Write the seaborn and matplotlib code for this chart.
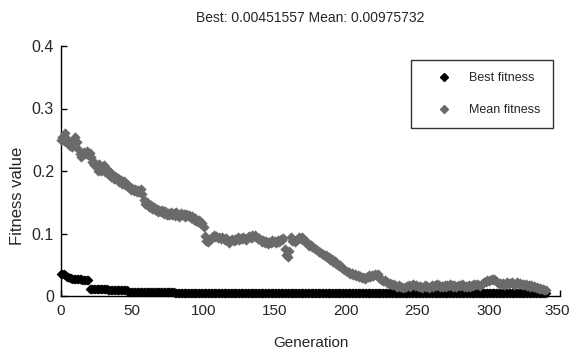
import numpy as np
import pandas as pd
import matplotlib
matplotlib.use("Agg")
import matplotlib.pyplot as plt
import matplotlib.transforms as mtransforms
import seaborn as sns
from matplotlib.lines import Line2D

title_text = "Best: 0.00451557 Mean: 0.00975732"
x_label = "Generation"
y_label = "Fitness value"
series_names = ["Best fitness", "Mean fitness"]
x_ticks = [0, 50, 100, 150, 200, 250, 300, 350]
y_ticks = [0, 0.1, 0.2, 0.3, 0.4]
y_tick_labels = ["0", "0.1", "0.2", "0.3", "0.4"]

best_fitness = [
    0.035, 0.036, 0.035, 0.034, 0.030, 0.030, 0.029, 0.029, 0.028, 0.028,
    0.028, 0.027, 0.027, 0.027, 0.027, 0.026, 0.026, 0.026, 0.025, 0.025,
    0.011, 0.011, 0.011, 0.011, 0.011, 0.011, 0.011, 0.011, 0.011, 0.011,
    0.011, 0.011, 0.011, 0.010, 0.010, 0.010, 0.010, 0.010, 0.010, 0.010,
    0.010, 0.010, 0.010, 0.010, 0.010, 0.010, 0.010, 0.0065, 0.0065, 0.0065,
    0.0062, 0.0062, 0.0062, 0.0062, 0.0062, 0.0062, 0.0062, 0.0062, 0.0062, 0.0062,
    0.0060, 0.0060, 0.0060, 0.0060, 0.0060, 0.0060, 0.0060, 0.0060, 0.0060, 0.0060,
    0.0058, 0.0058, 0.0058, 0.0058, 0.0058, 0.0058, 0.0058, 0.0058, 0.0058, 0.0058,
    0.0056, 0.0056, 0.0056, 0.0056, 0.0056, 0.0056, 0.0056, 0.0056, 0.0056, 0.0056,
    0.0055, 0.0055, 0.0055, 0.0055, 0.0055, 0.0055, 0.0055, 0.0055, 0.0055, 0.0055,
    0.0050, 0.0050, 0.0050, 0.0050, 0.0050, 0.0050, 0.0050, 0.0050, 0.0050, 0.0050,
    0.0050, 0.0050, 0.0050, 0.0050, 0.0050, 0.0050, 0.0050, 0.0050, 0.0050, 0.0050,
    0.0050, 0.0050, 0.0050, 0.0050, 0.0050, 0.0050, 0.0050, 0.0050, 0.0050, 0.0050,
    0.0050, 0.0050, 0.0050, 0.0050, 0.0050, 0.0050, 0.0050, 0.0050, 0.0050, 0.0050,
    0.0050, 0.0050, 0.0050, 0.0050, 0.0050, 0.0050, 0.0050, 0.0050, 0.0050, 0.0050,
    0.0048, 0.0048, 0.0048, 0.0048, 0.0048, 0.0048, 0.0048, 0.0048, 0.0048, 0.0048,
    0.0048, 0.0048, 0.0048, 0.0048, 0.0048, 0.0048, 0.0048, 0.0048, 0.0048, 0.0048,
    0.0048, 0.0048, 0.0048, 0.0048, 0.0048, 0.0048, 0.0048, 0.0048, 0.0048, 0.0048,
    0.0048, 0.0048, 0.0048, 0.0048, 0.0048, 0.0048, 0.0048, 0.0048, 0.0048, 0.0048,
    0.0048, 0.0048, 0.0048, 0.0048, 0.0048, 0.0048, 0.0048, 0.0048, 0.0048, 0.0048,
    0.0047, 0.0047, 0.0047, 0.0047, 0.0047, 0.0047, 0.0047, 0.0047, 0.0047, 0.0047,
    0.0047, 0.0047, 0.0047, 0.0047, 0.0047, 0.0047, 0.0047, 0.0047, 0.0047, 0.0047,
    0.0047, 0.0047, 0.0047, 0.0047, 0.0047, 0.0047, 0.0047, 0.0047, 0.0047, 0.0047,
    0.0047, 0.0047, 0.0047, 0.0047, 0.0047, 0.0047, 0.0047, 0.0047, 0.0047, 0.0047,
    0.0047, 0.0047, 0.0047, 0.0047, 0.0047, 0.0047, 0.0047, 0.0047, 0.0047, 0.0047,
    0.0046, 0.0046, 0.0046, 0.0046, 0.0046, 0.0046, 0.0046, 0.0046, 0.0046, 0.0046,
    0.0046, 0.0046, 0.0046, 0.0046, 0.0046, 0.0046, 0.0046, 0.0046, 0.0046, 0.0046,
    0.0046, 0.0046, 0.0046, 0.0046, 0.0046, 0.0046, 0.0046, 0.0046, 0.0046, 0.0046,
    0.0046, 0.0046, 0.0046, 0.0046, 0.0046, 0.0046, 0.0046, 0.0046, 0.0046, 0.0046,
    0.0046, 0.0046, 0.0046, 0.0046, 0.0046, 0.0046, 0.0046, 0.0046, 0.0046, 0.0046,
    0.00455, 0.00455, 0.00455, 0.00455, 0.00455, 0.00455, 0.00455, 0.00455, 0.00455, 0.00455,
    0.00455, 0.00455, 0.00455, 0.00455, 0.00455, 0.00455, 0.00455, 0.00455, 0.00455, 0.00455,
    0.00455, 0.00455, 0.00455, 0.00455, 0.00455, 0.00455, 0.00455, 0.00455, 0.00455, 0.00455,
    0.00455, 0.00455, 0.00455, 0.00455, 0.00455, 0.00455, 0.00455, 0.00455, 0.00455, 0.00455,
    0.00451557,
]

mean_fitness = [
    0.250, 0.255, 0.248, 0.261, 0.252, 0.244, 0.240, 0.246, 0.238, 0.250,
    0.254, 0.247, 0.236, 0.228, 0.222, 0.226, 0.231, 0.228, 0.232, 0.226,
    0.229, 0.222, 0.215, 0.210, 0.213, 0.206, 0.200, 0.212, 0.200, 0.205,
    0.210, 0.198, 0.203, 0.196, 0.200, 0.190, 0.195, 0.188, 0.192, 0.186,
    0.189, 0.183, 0.186, 0.180, 0.184, 0.178, 0.180, 0.174, 0.176, 0.170,
    0.173, 0.168, 0.172, 0.166, 0.170, 0.167, 0.172, 0.163, 0.154, 0.148,
    0.150, 0.145, 0.143, 0.146, 0.140, 0.142, 0.137, 0.140, 0.134, 0.137,
    0.134, 0.138, 0.131, 0.136, 0.130, 0.133, 0.129, 0.135, 0.130, 0.133,
    0.128, 0.134, 0.130, 0.127, 0.133, 0.129, 0.131, 0.126, 0.132, 0.128,
    0.130, 0.125, 0.128, 0.122, 0.125, 0.120, 0.118, 0.121, 0.115, 0.117,
    0.110, 0.096, 0.088, 0.086, 0.090, 0.092, 0.095, 0.098, 0.094, 0.096,
    0.093, 0.095, 0.091, 0.094, 0.092, 0.090, 0.093, 0.088, 0.085, 0.089,
    0.091, 0.088, 0.092, 0.090, 0.094, 0.089, 0.093, 0.091, 0.095, 0.092,
    0.090, 0.094, 0.096, 0.093, 0.097, 0.095, 0.098, 0.094, 0.091, 0.093,
    0.089, 0.086, 0.090, 0.085, 0.088, 0.084, 0.087, 0.085, 0.089, 0.086,
    0.088, 0.085, 0.090, 0.087, 0.091, 0.089, 0.093, 0.075, 0.065, 0.062,
    0.072, 0.094, 0.088, 0.090, 0.086, 0.089, 0.092, 0.095, 0.091, 0.094,
    0.090, 0.087, 0.088, 0.084, 0.080, 0.082, 0.078, 0.079, 0.075, 0.076,
    0.072, 0.070, 0.071, 0.067, 0.068, 0.064, 0.065, 0.061, 0.062, 0.058,
    0.059, 0.055, 0.056, 0.052, 0.050, 0.048, 0.049, 0.045, 0.043, 0.041,
    0.040, 0.038, 0.039, 0.036, 0.037, 0.034, 0.035, 0.032, 0.033, 0.031,
    0.032, 0.029, 0.030, 0.028, 0.031, 0.030, 0.033, 0.031, 0.034, 0.032,
    0.035, 0.033, 0.036, 0.031, 0.028, 0.026, 0.024, 0.025, 0.022, 0.023,
    0.020, 0.021, 0.018, 0.019, 0.017, 0.016, 0.015, 0.017, 0.014, 0.015,
    0.013, 0.015, 0.014, 0.016, 0.018, 0.015, 0.017, 0.019, 0.016, 0.018,
    0.016, 0.014, 0.016, 0.013, 0.015, 0.017, 0.014, 0.016, 0.013, 0.015,
    0.017, 0.015, 0.018, 0.016, 0.019, 0.017, 0.015, 0.016, 0.014, 0.017,
    0.015, 0.018, 0.016, 0.019, 0.017, 0.015, 0.017, 0.014, 0.016, 0.018,
    0.016, 0.019, 0.017, 0.015, 0.016, 0.014, 0.017, 0.015, 0.018, 0.016,
    0.019, 0.017, 0.020, 0.018, 0.016, 0.019, 0.021, 0.023, 0.022, 0.025,
    0.024, 0.026, 0.027, 0.025, 0.028, 0.024, 0.022, 0.020, 0.021, 0.019,
    0.021, 0.018, 0.020, 0.022, 0.019, 0.021, 0.023, 0.020, 0.018, 0.020,
    0.022, 0.019, 0.021, 0.018, 0.020, 0.017, 0.019, 0.016, 0.018, 0.015,
    0.017, 0.014, 0.016, 0.013, 0.015, 0.012, 0.013, 0.011, 0.012, 0.010,
    0.00975732,
]

generations = list(range(len(mean_fitness)))

sns.set_style("white")
plt.rcParams["font.family"] = ["Liberation Sans", "DejaVu Sans"]

best_color = "#000000"
mean_color = "#6a6a6a"

df_best = pd.DataFrame({"Generation": generations, "Fitness": best_fitness})
df_mean = pd.DataFrame({"Generation": generations, "Fitness": mean_fitness})

fig = plt.figure(figsize=(5.73, 3.61), dpi=100)
ax = fig.add_axes([61 / 573, 1 - 296 / 361, 499 / 573, 250 / 361])

sns.scatterplot(data=df_best, x="Generation", y="Fitness", ax=ax, marker="D",
                s=22, color=best_color, edgecolor=best_color, linewidth=0.3,
                zorder=3, clip_on=False)
sns.scatterplot(data=df_mean, x="Generation", y="Fitness", ax=ax, marker="D",
                s=24, color=mean_color, edgecolor=mean_color, linewidth=0.3,
                zorder=4, clip_on=False)

ax.set_xlim(0, 350)
ax.set_ylim(0, 0.4)
ax.set_xticks(x_ticks)
ax.set_xticklabels([str(t) for t in x_ticks], fontsize=11)
ax.set_yticks(y_ticks)
ax.set_yticklabels(y_tick_labels, fontsize=11.5)
ax.tick_params(direction="in", length=4, width=1, color="black",
               bottom=True, left=True)
ax.tick_params(axis="x", pad=6)
ax.tick_params(axis="y", pad=5)
for side in ["top", "right"]:
    ax.spines[side].set_visible(False)
for side in ["left", "bottom"]:
    ax.spines[side].set_color("black")
    ax.spines[side].set_linewidth(1.0)

# keep the last x tick label inside the figure
last_label = ax.get_xticklabels()[-1]
last_label.set_transform(last_label.get_transform() +
                         mtransforms.ScaledTranslation(-3 / 100, 0, fig.dpi_scale_trans))

ax.set_title(title_text, fontsize=10, pad=17)
ax.set_xlabel(x_label, fontsize=11, labelpad=13)
ax.set_ylabel(y_label, fontsize=12)
ax.yaxis.set_label_coords(-0.072, 0.40)

handles = [
    Line2D([], [], marker="D", linestyle="", color=best_color, markersize=4),
    Line2D([], [], marker="D", linestyle="", color=mean_color, markersize=4),
]
leg = ax.legend(handles, series_names, loc="upper right",
                bbox_to_anchor=(0.985, 0.944), frameon=True, fancybox=False,
                fontsize=9, borderpad=0.95, labelspacing=1.6, handletextpad=0.3,
                borderaxespad=0, handlelength=3.4)
leg.get_frame().set_edgecolor("black")
leg.get_frame().set_linewidth(1.0)

fig.savefig("out.png", dpi=100)
